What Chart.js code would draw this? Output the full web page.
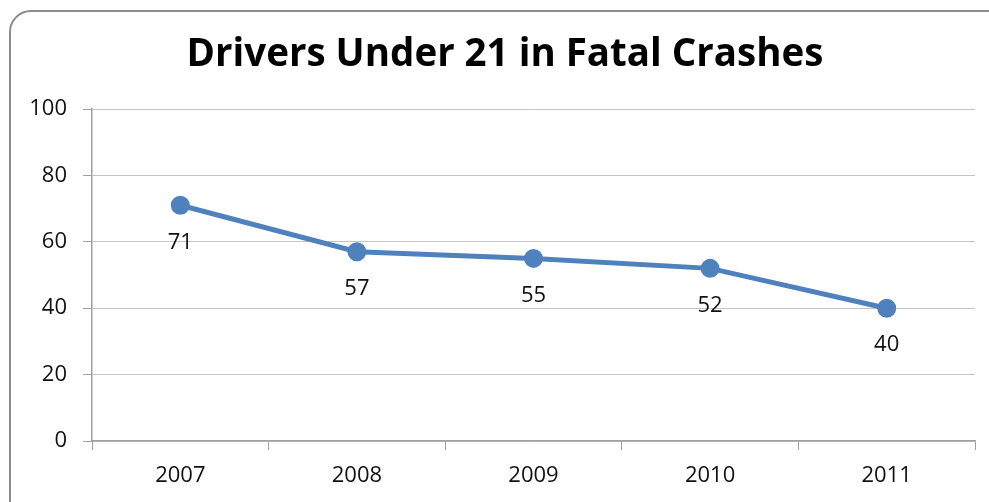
<!DOCTYPE html>
<html>
<head>
<meta charset="utf-8">
<script src="https://cdn.jsdelivr.net/npm/chart.js@4.4.0/dist/chart.umd.min.js"></script>
<style>
  html, body { margin: 0; padding: 0; background: #fff; overflow: hidden; }
  #frame {
    position: absolute; left: 9px; top: 10px; width: 1010px; height: 520px;
    border: 2px solid #8c8c8c; border-radius: 22px; box-sizing: border-box;
  }
  #wrap { position: absolute; left: 0; top: 0; width: 989px; height: 502px; }
</style>
</head>
<body>
<div id="frame"></div>
<div id="wrap"><canvas id="chart"></canvas></div>
<script>
const years = ['2007', '2008', '2009', '2010', '2011'];
const drivers = [71, 57, 55, 52, 40];
const yTicks = [0, 20, 40, 60, 80, 100];
const chartTitle = 'Drivers Under 21 in Fatal Crashes';

const FONT = "'Open Sans', 'Noto Sans', sans-serif";

// title sits a bit right of the canvas centre, like the original
const titlePlugin = {
    id: 'titlePlugin',
    afterDraw(chart) {
        const ctx = chart.ctx;
        ctx.save();
        ctx.font = 'bold 38.5px ' + FONT;
        ctx.fillStyle = '#000';
        ctx.textAlign = 'center';
        ctx.textBaseline = 'middle';
        ctx.fillText(chartTitle, 505, 55);
        ctx.restore();
    }
};

// value labels under each point
const pointLabels = {
    id: 'pointLabels',
    afterDatasetsDraw(chart) {
        const ctx = chart.ctx;
        const meta = chart.getDatasetMeta(0);
        ctx.save();
        ctx.font = '22px ' + FONT;
        ctx.fillStyle = '#111';
        ctx.textAlign = 'center';
        ctx.textBaseline = 'middle';
        meta.data.forEach((pt, i) => {
            ctx.fillText(String(chart.data.datasets[0].data[i]), pt.x, pt.y + 37);
        });
        ctx.restore();
    }
};

new Chart(document.getElementById('chart'), {
    type: 'line',
    data: {
        labels: years,
        datasets: [{
            label: 'Drivers',
            data: drivers,
            borderColor: '#4F81BD',
            backgroundColor: '#4F81BD',
            borderWidth: 5,
            pointRadius: 7,
            pointHoverRadius: 7,
            tension: 0
        }]
    },
    options: {
        responsive: true,
        maintainAspectRatio: false,
        animation: false,
        layout: { padding: { left: 0, right: 14, top: 109, bottom: 0 } },
        plugins: {
            legend: { display: false },
            tooltip: { enabled: false },
            title: { display: false }
        },
        scales: {
            x: {
                offset: true,
                grid: {
                    offset: true,
                    drawOnChartArea: false,
                    drawTicks: true,
                    tickLength: 9,
                    color: '#a0a0a0'
                },
                border: { color: '#a0a0a0', width: 1.5 },
                ticks: {
                    color: '#111',
                    font: { family: FONT, size: 22 },
                    padding: 13
                },
                afterFit(s) { s.height = 61; }
            },
            y: {
                min: 0,
                max: 100,
                afterBuildTicks(s) { s.ticks = yTicks.map(v => ({ value: v })); },
                grid: {
                    color: '#c4c4c4',
                    lineWidth: 1,
                    drawTicks: true,
                    tickLength: 9,
                    tickColor: '#a0a0a0'
                },
                border: { color: '#a0a0a0', width: 1.5 },
                ticks: {
                    color: '#111',
                    font: { family: FONT, size: 22 },
                    padding: 16
                },
                afterFit(s) { s.width = 92; }
            }
        }
    },
    plugins: [pointLabels, titlePlugin]
});
</script>
</body>
</html>
